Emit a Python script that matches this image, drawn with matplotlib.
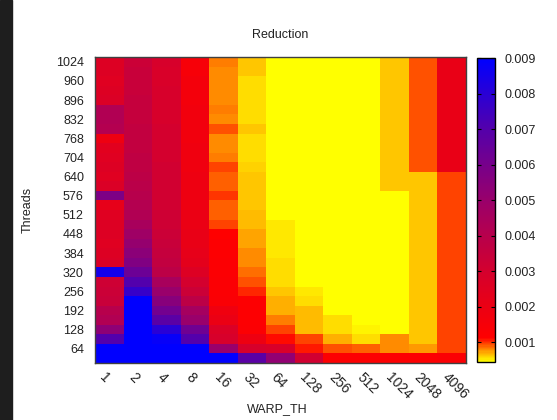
import numpy as np
import matplotlib
matplotlib.use("Agg")
import matplotlib.pyplot as plt
from matplotlib.colors import LinearSegmentedColormap, Normalize
from matplotlib.patches import Rectangle
from matplotlib.transforms import ScaledTranslation

warp_th = ["1", "2", "4", "8", "16", "32", "64", "128", "256", "512", "1024", "2048", "4096"]
threads = [32, 64, 96, 128, 160, 192, 224, 256, 288, 320, 352, 384, 416, 448, 480, 512,
           544, 576, 608, 640, 672, 704, 736, 768, 800, 832, 864, 896, 928, 960, 992, 1024]
thread_ticks = [64, 128, 192, 256, 320, 384, 448, 512, 576, 640, 704, 768, 832, 896, 960, 1024]
cbar_ticks = [0.001, 0.002, 0.003, 0.004, 0.005, 0.006, 0.007, 0.008, 0.009]

# one row per thread count, from 1024 (top) down to 32 (bottom)
reduction = [
    [0.0026, 0.0033, 0.0029, 0.0015, 0.00084, 0.00062, 0.00046, 0.00046, 0.00046, 0.00046, 0.00063, 0.00091, 0.0021],  # 1024
    [0.0026, 0.0034, 0.0028, 0.0015, 0.00080, 0.00062, 0.00046, 0.00046, 0.00046, 0.00046, 0.00063, 0.00091, 0.0021],  # 992
    [0.0025, 0.0034, 0.0028, 0.0016, 0.00080, 0.00056, 0.00046, 0.00046, 0.00046, 0.00046, 0.00063, 0.00091, 0.0021],  # 960
    [0.0026, 0.0034, 0.0029, 0.0016, 0.00079, 0.00056, 0.00046, 0.00046, 0.00046, 0.00046, 0.00063, 0.00091, 0.0021],  # 928
    [0.0027, 0.0035, 0.0029, 0.0016, 0.00080, 0.00056, 0.00046, 0.00046, 0.00046, 0.00046, 0.00063, 0.00091, 0.0021],  # 896
    [0.0042, 0.0035, 0.0029, 0.0017, 0.00081, 0.00056, 0.00046, 0.00046, 0.00046, 0.00046, 0.00063, 0.00091, 0.0021],  # 864
    [0.0042, 0.0035, 0.0029, 0.0017, 0.00080, 0.00056, 0.00046, 0.00046, 0.00046, 0.00046, 0.00063, 0.00091, 0.0021],  # 832
    [0.0041, 0.0036, 0.0030, 0.0017, 0.00094, 0.00063, 0.00046, 0.00046, 0.00046, 0.00046, 0.00063, 0.00091, 0.0021],  # 800
    [0.0019, 0.0036, 0.0030, 0.0017, 0.00080, 0.00056, 0.00046, 0.00046, 0.00046, 0.00046, 0.00063, 0.00091, 0.0021],  # 768
    [0.0024, 0.0036, 0.0030, 0.0018, 0.00080, 0.00056, 0.00046, 0.00046, 0.00046, 0.00046, 0.00063, 0.00091, 0.0021],  # 736
    [0.0025, 0.0037, 0.0030, 0.0018, 0.00081, 0.00057, 0.00046, 0.00046, 0.00046, 0.00046, 0.00063, 0.00091, 0.0021],  # 704
    [0.0026, 0.0037, 0.0031, 0.0018, 0.00097, 0.00060, 0.00046, 0.00046, 0.00046, 0.00046, 0.00063, 0.00091, 0.0021],  # 672
    [0.0025, 0.0038, 0.0031, 0.0019, 0.00089, 0.00063, 0.00046, 0.00046, 0.00046, 0.00046, 0.00063, 0.00063, 0.00096],  # 640
    [0.0027, 0.0039, 0.0031, 0.0019, 0.00090, 0.00063, 0.00046, 0.00046, 0.00046, 0.00046, 0.00063, 0.00063, 0.00096],  # 608
    [0.0058, 0.0040, 0.0031, 0.0019, 0.00098, 0.00064, 0.00046, 0.00046, 0.00046, 0.00046, 0.00046, 0.00063, 0.00096],  # 576
    [0.0022, 0.0041, 0.0031, 0.0019, 0.00089, 0.00063, 0.00046, 0.00046, 0.00046, 0.00046, 0.00046, 0.00063, 0.00096],  # 544
    [0.0025, 0.0042, 0.0032, 0.0020, 0.00090, 0.00066, 0.00046, 0.00046, 0.00046, 0.00046, 0.00046, 0.00063, 0.00096],  # 512
    [0.0026, 0.0045, 0.0032, 0.0020, 0.00096, 0.00066, 0.00051, 0.00046, 0.00046, 0.00046, 0.00046, 0.00063, 0.00096],  # 480
    [0.0026, 0.0048, 0.0033, 0.0021, 0.00112, 0.00072, 0.00051, 0.00046, 0.00046, 0.00046, 0.00046, 0.00063, 0.00096],  # 448
    [0.0025, 0.0051, 0.0034, 0.0021, 0.00120, 0.00072, 0.00051, 0.00046, 0.00046, 0.00046, 0.00046, 0.00063, 0.00096],  # 416
    [0.0026, 0.0054, 0.0035, 0.0022, 0.00122, 0.00080, 0.00051, 0.00046, 0.00046, 0.00046, 0.00046, 0.00063, 0.00096],  # 384
    [0.0027, 0.0057, 0.0036, 0.0023, 0.00125, 0.00080, 0.00056, 0.00046, 0.00046, 0.00046, 0.00046, 0.00063, 0.00096],  # 352
    [0.0085, 0.0063, 0.0038, 0.0026, 0.00125, 0.00087, 0.00056, 0.00046, 0.00046, 0.00046, 0.00046, 0.00063, 0.00096],  # 320
    [0.0032, 0.0070, 0.0045, 0.0030, 0.00128, 0.00094, 0.00056, 0.00046, 0.00046, 0.00046, 0.00046, 0.00063, 0.00096],  # 288
    [0.0033, 0.0077, 0.0050, 0.0033, 0.00130, 0.00103, 0.00063, 0.00054, 0.00046, 0.00046, 0.00046, 0.00063, 0.00096],  # 256
    [0.0034, 0.0095, 0.0055, 0.0038, 0.00135, 0.00120, 0.00070, 0.00057, 0.00046, 0.00046, 0.00046, 0.00063, 0.00096],  # 224
    [0.0040, 0.0095, 0.0061, 0.0046, 0.0018, 0.00120, 0.00070, 0.00066, 0.00046, 0.00046, 0.00046, 0.00063, 0.00096],  # 192
    [0.0042, 0.0095, 0.0068, 0.0050, 0.0020, 0.00122, 0.00084, 0.00066, 0.00056, 0.00046, 0.00046, 0.00063, 0.00096],  # 160
    [0.0053, 0.0095, 0.0080, 0.0062, 0.0027, 0.00125, 0.00096, 0.00066, 0.00056, 0.00048, 0.00046, 0.00063, 0.00096],  # 128
    [0.0070, 0.0095, 0.0088, 0.0070, 0.0029, 0.0019, 0.00108, 0.00096, 0.00069, 0.00057, 0.00080, 0.00063, 0.00096],  # 96
    [0.0095, 0.0095, 0.0095, 0.0095, 0.0050, 0.0029, 0.0028, 0.00105, 0.00091, 0.00089, 0.00080, 0.00077, 0.00096],  # 64
    [0.0095, 0.0095, 0.0095, 0.0095, 0.0095, 0.0068, 0.0052, 0.0031, 0.0012, 0.0012, 0.0012, 0.0012, 0.0013],  # 32
]


def main():
    plt.rcParams["font.family"] = ["Liberation Sans", "DejaVu Sans"]
    plt.rcParams["font.size"] = 9
    text_color = "#222222"

    vmin, vmax = 0.00044, 0.009
    nodes = [(0.00044, "#ffff00"), (0.00075, "#ff9600"), (0.0011, "#ff0000"),
             (0.002, "#eb0014"), (0.003, "#d4002e"), (0.005, "#99006b"),
             (0.007, "#5400ab"), (0.009, "#0000ff")]
    cmap = LinearSegmentedColormap.from_list(
        "yellow_red_blue", [((v - vmin) / (vmax - vmin), c) for v, c in nodes])

    fig = plt.figure(figsize=(5.57, 4.2), dpi=100)
    fig.patches.append(Rectangle((0, 0), 12 / 557, 1, transform=fig.transFigure,
                                 color="#1e1e1e", zorder=0))

    ax = fig.add_axes([95 / 557, 57 / 420, 371 / 557, 306 / 420])
    z = np.array(reduction)[::-1]
    x_edges = np.arange(len(warp_th) + 1) - 0.5
    t = np.array(threads)
    y_edges = np.append(t - 16, t[-1] + 16)
    mesh = ax.pcolormesh(x_edges, y_edges, z, cmap=cmap, norm=Normalize(vmin, vmax))

    ax.set_xlim(x_edges[0], x_edges[-1])
    ax.set_ylim(y_edges[0], y_edges[-1])
    ax.set_xticks(range(len(warp_th)))
    ax.set_xticklabels(warp_th, rotation=-45, ha="left", va="top",
                       rotation_mode="anchor", fontsize=10)
    ax.set_yticks(thread_ticks)
    ax.set_yticklabels([str(v) for v in thread_ticks])
    ax.tick_params(length=0, colors=text_color, labelsize=9)
    ax.tick_params(axis="x", pad=5, labelsize=10)
    ax.tick_params(axis="y", pad=8)
    shift = ScaledTranslation(-2 / 100, 0, fig.dpi_scale_trans)
    for lab in ax.get_xticklabels():
        lab.set_transform(lab.get_transform() + shift)
    for s in ax.spines.values():
        s.set_color("#404040")
        s.set_linewidth(1)

    ax.set_title("Reduction", fontsize=9, color=text_color, pad=14)
    ax.set_xlabel("WARP_TH", fontsize=9, color=text_color)
    ax.xaxis.set_label_coords(0.49, -0.13)
    ax.set_ylabel("Threads", fontsize=9, color=text_color)
    ax.yaxis.set_label_coords(-0.165, 0.5)

    cax = fig.add_axes([477 / 557, 58 / 420, 18 / 557, 304 / 420])
    cb = fig.colorbar(mesh, cax=cax, ticks=cbar_ticks, format="%.3f")
    cb.outline.set_edgecolor("black")
    cb.outline.set_linewidth(1)
    cax.tick_params(direction="in", left=True, right=True, length=3, width=0.8,
                    colors="black", labelcolor=text_color, labelsize=9, pad=7)

    fig.savefig("out.png", dpi=100)


if __name__ == "__main__":
    main()
